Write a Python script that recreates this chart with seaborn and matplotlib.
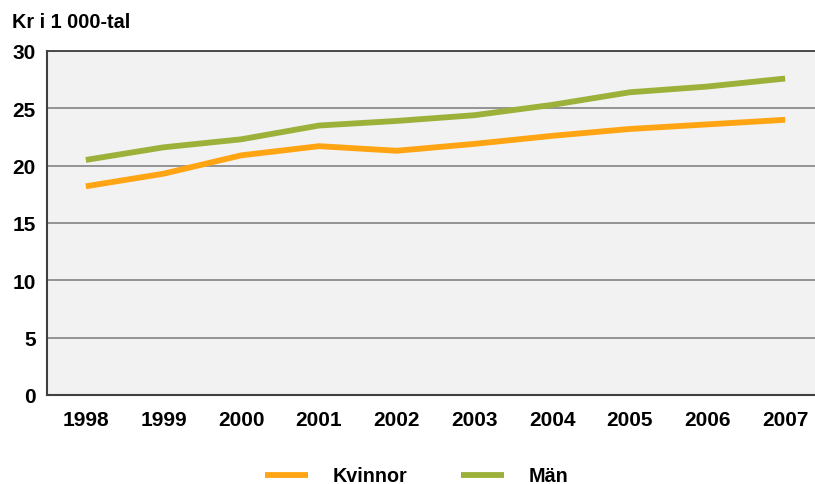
import pandas as pd
import matplotlib
matplotlib.use('Agg')
import matplotlib.pyplot as plt
import seaborn as sns
import numpy as np
from matplotlib.lines import Line2D

# data
years = ['1998', '1999', '2000', '2001', '2002', '2003', '2004', '2005', '2006', '2007']
kvinnor = [18.2, 19.3, 20.9, 21.7, 21.3, 21.9, 22.6, 23.2, 23.6, 24.0]
man = [20.5, 21.6, 22.3, 23.5, 23.9, 24.4, 25.3, 26.4, 26.9, 27.6]

df = pd.DataFrame({'year': years * 2,
                   'value': kvinnor + man,
                   'group': ['Kvinnor'] * len(years) + ['Män'] * len(years)})

colors = {'Kvinnor': '#ffa514', 'Män': '#9bb13a'}

sns.set_style('white')
plt.rcParams['font.family'] = ['Liberation Sans', 'DejaVu Sans']
plt.rcParams['font.weight'] = 'bold'
plt.rcParams['text.color'] = 'black'
plt.rcParams['xtick.labelcolor'] = 'black'
plt.rcParams['ytick.labelcolor'] = 'black'

fig = plt.figure(figsize=(8.15, 4.85), dpi=100)
# right edge of the plot is cut off in the reference
ax = fig.add_axes([47/815, 1 - 396/485, 777/815, 344/485])
ax.set_facecolor('#f2f2f2')

sns.lineplot(data=df, x='year', y='value', hue='group', ax=ax,
             palette=colors, linewidth=4.2, sort=False, legend=False,
             solid_capstyle='butt')

ax.set_xlim(-0.5, 9.5)
ax.set_ylim(0, 30)
ax.set_yticks(range(0, 31, 5))
ax.yaxis.grid(True, color='#8c8c8c', linewidth=1.3)
ax.set_axisbelow(True)

# x ticks sit between categories, labels at the centres
ax.set_xticks(np.arange(-0.5, 9.6, 1), minor=False)
ax.set_xticklabels([])
ax.set_xticks(range(len(years)), minor=True)
ax.set_xticklabels(years, minor=True)
ax.tick_params(axis='x', which='major', length=6, width=1.5, color='#8c8c8c', direction='out')
ax.tick_params(axis='x', which='minor', length=0, pad=11, labelsize=15)
ax.tick_params(axis='y', length=6, width=1.5, color='#8c8c8c', direction='out', pad=2, labelsize=15)

for side in ['left', 'bottom']:
    ax.spines[side].set_color('#404040')
    ax.spines[side].set_linewidth(1.5)
ax.spines['top'].set_color('#404040')
ax.spines['top'].set_linewidth(1.3)
ax.spines['right'].set_visible(False)

ax.set_xlabel('')
ax.set_ylabel('')
fig.text(12/815, 1 - 22/485, 'Kr i 1 000-tal', fontsize=14.3, va='center', ha='left')

# legend below the plot
handles = [Line2D([], [], color=colors['Kvinnor'], linewidth=4.2, solid_capstyle='butt'),
           Line2D([], [], color=colors['Män'], linewidth=4.2, solid_capstyle='butt')]
fig.legend(handles, ['Kvinnor', 'Män'], loc='center', bbox_to_anchor=(0.511, 1 - 477/485),
           ncol=2, frameon=False, fontsize=14.2, handlelength=2.2, handletextpad=1.25,
           columnspacing=2.7)

fig.savefig('out.png', dpi=100)
